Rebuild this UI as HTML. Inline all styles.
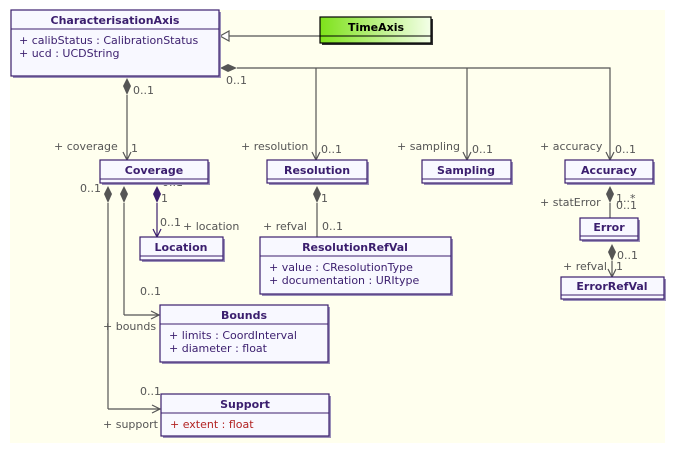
<!DOCTYPE html>
<html><head><style>
html,body{margin:0;padding:0;background:#fff;}
svg{display:block;font-family:"DejaVu Sans","Liberation Sans",sans-serif;}
.t{font-size:11px;fill:#555;}
.h{font-size:11px;font-weight:bold;fill:#3b1e6e;text-anchor:middle;}
.a{font-size:11px;fill:#3b1e6e;}
.box{fill:#f8f8ff;stroke:#3b1e6e;stroke-width:1.2;}
.sh{fill:#9a8fb8;}
.ln{stroke:#555;stroke-width:1.2;fill:none;}
.dm{fill:#555;}
</style></head><body>
<svg width="675" height="453" viewBox="0 0 675 453">
<defs>
<linearGradient id="g" x1="0" x2="1"><stop offset="0" stop-color="#7ee21a"/><stop offset="1" stop-color="#f4ffe8"/></linearGradient>
</defs>
<rect x="10" y="10" width="655" height="433" fill="#ffffee"/>

<!-- connectors -->
<line class="ln" x1="320" y1="36" x2="229" y2="36"/>
<polygon points="220,36 229,31 229,41" fill="#fff" stroke="#555" stroke-width="1.2"/>
<polyline class="ln" points="237,68 610,68 610,160"/>
<line class="ln" x1="316" y1="68" x2="316" y2="160"/>
<line class="ln" x1="467" y1="68" x2="467" y2="160"/>
<polygon class="dm" points="220,68 228,64 237,68 228,72"/>
<polyline class="ln" points="312,152 316,160 320,152"/>
<polyline class="ln" points="463,152 467,160 471,152"/>
<polyline class="ln" points="606,152 610,160 614,152"/>
<line class="ln" x1="127" y1="95" x2="127" y2="160"/>
<polygon class="dm" points="127,78 131,86 127,95 123,86"/>
<polyline class="ln" points="123,152 127,160 131,152"/>

<line class="ln" x1="108" y1="203" x2="108" y2="409"/><line class="ln" x1="108" y1="409" x2="160" y2="409"/>
<polyline class="ln" points="152,405 160,409 152,413"/>
<polygon class="dm" points="108,186 112,194 108,203 104,194"/>
<line class="ln" x1="124" y1="203" x2="124" y2="315"/><line class="ln" x1="124" y1="315" x2="159" y2="315"/>
<polyline class="ln" points="151,311 159,315 151,319"/>
<polygon class="dm" points="124,186 128,194 124,203 120,194"/>
<line x1="157" y1="203" x2="157" y2="237" stroke="#3b1e6e" stroke-width="1.2"/>
<polygon points="157,186 161,194 157,203 153,194" fill="#3b1e6e"/>
<polyline points="153,229 157,237 161,229" fill="none" stroke="#3b1e6e" stroke-width="1.2"/>
<line class="ln" x1="317" y1="203" x2="317" y2="237"/>
<polygon class="dm" points="317,186 321,194 317,203 313,194"/>
<line class="ln" x1="610" y1="203" x2="610" y2="218"/>
<polygon class="dm" points="610,186 614,194 610,203 606,194"/>
<line class="ln" x1="612" y1="261" x2="612" y2="277"/>
<polygon class="dm" points="612,244 616,252 612,261 608,252"/>
<polyline class="ln" points="608,269 612,277 616,269"/>

<!-- labels -->
<text class="t" x="226" y="84">0..1</text>
<text class="t" x="133" y="94">0..1</text>
<text class="t" x="54" y="150">+ coverage</text><text class="t" x="131" y="152">1</text>
<text class="t" x="241" y="150">+ resolution</text><text class="t" x="321" y="153">0..1</text>
<text class="t" x="397" y="150">+ sampling</text><text class="t" x="472" y="153">0..1</text>
<text class="t" x="540" y="150">+ accuracy</text><text class="t" x="615" y="153">0..1</text>
<text class="t" x="80" y="192">0..1</text>
<text class="t" x="162" y="186">0..1</text><text class="t" x="161" y="202">1</text>
<text class="t" x="160" y="226">0..1</text><text class="t" x="183" y="230">+ location</text>
<text class="t" x="321" y="202">1</text>
<text class="t" x="263" y="230">+ refval</text><text class="t" x="322" y="230">0..1</text>
<text class="t" x="540" y="206">+ statError</text><text class="t" x="616" y="202">1..*</text><text class="t" x="616" y="209">0..1</text>
<text class="t" x="617" y="259">0..1</text><text class="t" x="563" y="270">+ refval</text><text class="t" x="616" y="270">1</text>
<text class="t" x="140" y="295">0..1</text>
<text class="t" x="103" y="330">+ bounds</text>
<text class="t" x="140" y="395">0..1</text>
<text class="t" x="103" y="428">+ support</text>

<!-- boxes -->
<rect class="sh" x="13" y="12" width="208" height="66"/>
<rect class="box" x="11" y="10" width="208" height="66"/>
<line x1="11" y1="29" x2="219" y2="29" stroke="#3b1e6e"/>
<text class="h" x="115" y="24">CharacterisationAxis</text>
<text class="a" x="19" y="44">+ calibStatus : CalibrationStatus</text>
<text class="a" x="19" y="57">+ ucd : UCDString</text>

<rect x="322" y="19" width="111" height="26" fill="#333"/>
<rect x="320" y="17" width="111" height="26" fill="url(#g)" stroke="#000" stroke-width="1.2"/>
<line x1="320" y1="36" x2="431" y2="36" stroke="#000"/>
<text class="h" x="376" y="31" style="fill:#000">TimeAxis</text>

<g>
<rect class="sh" x="102" y="162" width="108" height="23"/><rect class="box" x="100" y="160" width="108" height="23"/><line x1="100" y1="179" x2="208" y2="179" stroke="#3b1e6e"/><text class="h" x="154" y="174">Coverage</text>
<rect class="sh" x="269" y="162" width="100" height="23"/><rect class="box" x="267" y="160" width="100" height="23"/><line x1="267" y1="179" x2="367" y2="179" stroke="#3b1e6e"/><text class="h" x="317" y="174">Resolution</text>
<rect class="sh" x="424" y="162" width="89" height="23"/><rect class="box" x="422" y="160" width="89" height="23"/><line x1="422" y1="179" x2="511" y2="179" stroke="#3b1e6e"/><text class="h" x="466" y="174">Sampling</text>
<rect class="sh" x="567" y="162" width="88" height="23"/><rect class="box" x="565" y="160" width="88" height="23"/><line x1="565" y1="179" x2="653" y2="179" stroke="#3b1e6e"/><text class="h" x="609" y="174">Accuracy</text>
<rect class="sh" x="142" y="239" width="83" height="23"/><rect class="box" x="140" y="237" width="83" height="23"/><line x1="140" y1="256" x2="223" y2="256" stroke="#3b1e6e"/><text class="h" x="181" y="251">Location</text>
<rect class="sh" x="582" y="220" width="58" height="22"/><rect class="box" x="580" y="218" width="58" height="22"/><line x1="580" y1="236" x2="638" y2="236" stroke="#3b1e6e"/><text class="h" x="609" y="231">Error</text>
<rect class="sh" x="563" y="279" width="103" height="22"/><rect class="box" x="561" y="277" width="103" height="22"/><line x1="561" y1="295" x2="664" y2="295" stroke="#3b1e6e"/><text class="h" x="612" y="290">ErrorRefVal</text>
<rect class="sh" x="262" y="239" width="191" height="57"/><rect class="box" x="260" y="237" width="191" height="57"/><line x1="260" y1="256" x2="451" y2="256" stroke="#3b1e6e"/><text class="h" x="355" y="251">ResolutionRefVal</text>
<text class="a" x="269" y="271">+ value : CResolutionType</text><text class="a" x="269" y="284">+ documentation : URItype</text>
<rect class="sh" x="162" y="307" width="168" height="57"/><rect class="box" x="160" y="305" width="168" height="57"/><line x1="160" y1="324" x2="328" y2="324" stroke="#3b1e6e"/><text class="h" x="244" y="319">Bounds</text>
<text class="a" x="169" y="339">+ limits : CoordInterval</text><text class="a" x="169" y="352">+ diameter : float</text>
<rect class="sh" x="163" y="396" width="168" height="42"/><rect class="box" x="161" y="394" width="168" height="42"/><line x1="161" y1="413" x2="329" y2="413" stroke="#3b1e6e"/><text class="h" x="245" y="408">Support</text>
<text class="a" x="170" y="428" style="fill:#b22222">+ extent : float</text>
</g>
</svg>
</body></html>
